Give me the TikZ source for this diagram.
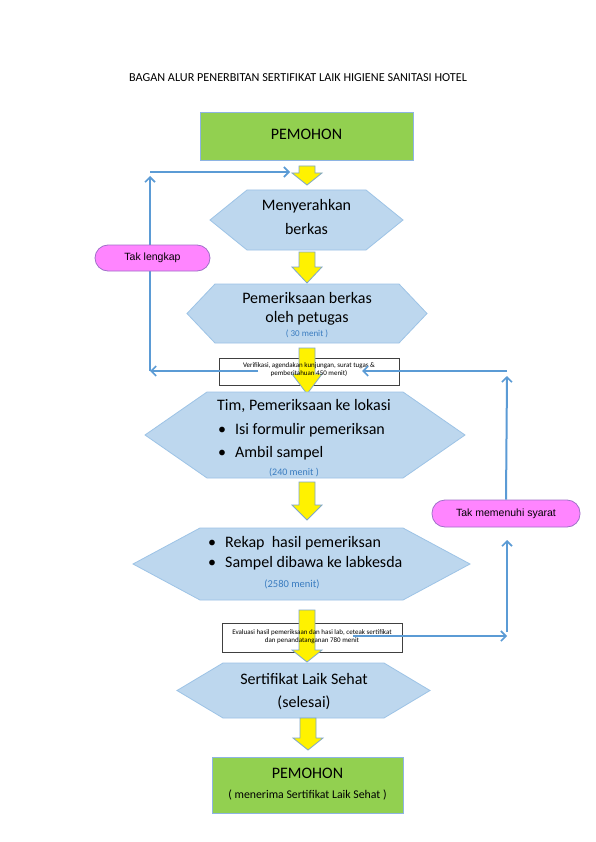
\documentclass[tikz,border=0pt]{standalone}
\usepackage{fontspec}
\setmainfont{Carlito}
\newfontfamily\arialf{Liberation Sans}
\usetikzlibrary{arrows.meta}
\definecolor{boxgreen}{HTML}{92D050}
\definecolor{boxgreenb}{HTML}{8EB4E3}
\definecolor{hexfill}{HTML}{BDD7EE}
\definecolor{hexline}{HTML}{9DC3E6}
\definecolor{pinkfill}{HTML}{FF85FF}
\definecolor{pinkline}{HTML}{A070C8}
\definecolor{flowblue}{HTML}{5B9BD5}
\definecolor{minblue}{HTML}{3A7CC0}
\definecolor{yarrline}{HTML}{7FA7C9}
\tikzset{
  greenbox/.style={draw=boxgreenb,fill=boxgreen,line width=0.8pt},
  hexbox/.style={draw=hexline,fill=hexfill,line width=0.8pt},
  pillbox/.style={draw=pinkline,fill=pinkfill,line width=0.8pt,rounded corners=13pt},
  notebox/.style={draw=black!75,line width=0.8pt},
  yarrow/.style={draw=yarrline,fill=yellow,line width=0.8pt},
  flow/.style={draw=flowblue,line width=2pt,-{Straight Barb[length=5pt,width=10pt,line width=1.6pt]}},
  txt/.style={inner sep=0pt,font=\fontsize{16}{19}\selectfont},
  mins/.style={inner sep=0pt,text=minblue,font=\fontsize{10}{12}\selectfont},
  tiny/.style={inner sep=0pt,font=\fontsize{7}{8}\selectfont,align=center},
  pilltxt/.style={inner sep=0pt,font=\arialf\fontsize{10.5}{12}\selectfont}
}
\newcommand\hexpath[5]{(#1,{(#3+#4)/2}) -- ({#1+#5},#3) -- ({#2-#5},#3) -- (#2,{(#3+#4)/2}) -- ({#2-#5},#4) -- ({#1+#5},#4) -- cycle}
\newcommand\blockarrow[4]{\path[yarrow] ({#1-8},#2) -- ({#1+8},#2) -- ({#1+8},#3) -- ({#1+15},#3) -- (#1,#4) -- ({#1-15},#3) -- ({#1-8},#3) -- cycle;}
\begin{document}
\begin{tikzpicture}[x=1pt,y=-1pt]
\useasboundingbox (0,0) rectangle (595,842);
\fill[white] (0,0) rectangle (595,842);
% title
\node[inner sep=0pt,font=\fontsize{12.2}{14}\selectfont] (title) at (298,78) {BAGAN ALUR PENERBITAN SERTIFIKAT LAIK HIGIENE SANITASI HOTEL};
% top box
\path[greenbox] (200,112) rectangle (413,160);
\node[txt] (pem1) at (306.5,134) {PEMOHON};
% coordinates for flow lines
\coordinate (lb) at (150,371);
\coordinate (lt) at (150,176);
\coordinate (ltc) at (150,172);
\coordinate (ltr) at (290,172);
\coordinate (mlin) at (258,371);
\coordinate (rr) at (507,371);
\coordinate (rarr) at (362,371);
\coordinate (rup) at (507,376);
\coordinate (rlow) at (507,632);
\coordinate (rmid) at (507,540);
\coordinate (evs) at (353,636);
\coordinate (eve) at (507,636);
% blue feedback lines
\draw[flow] (lb) -- (lt);
\draw[flow] (ltc) -- (ltr);
\node[pillbox,minimum width=115pt,minimum height=26pt,inner sep=0pt] (taklengkap) at (152.5,258) {};
\node[pilltxt] at (taklengkap) {Tak lengkap};
\node[pillbox,minimum width=148pt,minimum height=27pt,inner sep=0pt] (takmemenuhi) at (506,513.5) {};
\node[pilltxt] at (takmemenuhi) {Tak memenuhi syarat};
\draw[flow] (takmemenuhi.north) -- (rup);
\draw[flow] (rlow) -- (rmid);
% arrow 1
\blockarrow{307}{166}{173}{185}
% hex 1
\path[hexbox] \hexpath{210}{403}{190}{250}{37};
\node[txt] (h1a) at (306.5,206) {Menyerahkan};
\node[txt] (h1b) at (306.5,229) {berkas};
\blockarrow{307}{252}{267}{283}
% hex 2
\path[hexbox] \hexpath{187}{427}{284}{343}{28};
\node[txt] (h2a) at (307,298) {Pemeriksaan berkas};
\node[txt] (h2b) at (307,318) {oleh petugas};
\node[mins,font=\fontsize{9}{10}\selectfont] (h2c) at (307,334) {( 30 menit )};
% verif box
\path[notebox,fill=white] (219,358) rectangle (399,385);
\blockarrow{307}{348}{374}{394}
\node[tiny] (verif) at (309,370) {Verifikasi, agendakan kunjungan, surat tugas \&\\ pemberitahuan 450 menit)};
\draw[flow] (mlin) -- (lb);
\draw[flow] (rr) -- (rarr);
% hex 3
\path[hexbox] \hexpath{145}{465}{392}{478}{62};
\node[txt,anchor=west] (h3a) at (217,406) {Tim, Pemeriksaan ke lokasi};
\node[txt,anchor=west] (h3b) at (218,430) {\textbullet\hspace{9pt}Isi formulir pemeriksan};
\node[txt,anchor=west] (h3c) at (218,453) {\textbullet\hspace{9pt}Ambil sampel};
\node[mins] (h3d) at (294,473) {(240 menit )};
\blockarrow{307}{482}{505}{520}
% hex 4
\path[hexbox] \hexpath{133}{470}{528}{600}{67};
\node[txt,anchor=west] (h4a) at (208,543) {\textbullet\hspace{9pt}Rekap\ \ hasil pemeriksan};
\node[txt,anchor=west] (h4b) at (208,563) {\textbullet\hspace{9pt}Sampel dibawa ke labkesda};
\node[mins,font=\fontsize{10.5}{12}\selectfont] (h4c) at (292,584) {(2580 menit)};
% eval box
\path[notebox,fill=white] (222,623) rectangle (402,652);
\blockarrow{307}{610}{650}{662}
\node[tiny] (eval) at (312,637) {Evaluasi hasil pemeriksaan dan hasi lab, ceteak sertifikat\\ dan penandatanganan 780 menit};
\draw[flow] (evs) -- (eve);
% hex 5
\path[hexbox] \hexpath{177}{430}{663}{718}{46};
\node[txt] (h5a) at (304,679) {Sertifikat Laik Sehat};
\node[txt] (h5b) at (304,703) {(selesai)};
\blockarrow{308}{718}{738}{750}
% bottom box
\path[greenbox] (212,757) rectangle (403,813);
\node[txt] (pem2) at (307.5,773) {PEMOHON};
\node[inner sep=0pt,font=\fontsize{11.8}{14}\selectfont] (pem2b) at (307.5,795) {( menerima Sertifikat Laik Sehat )};
\end{tikzpicture}
\end{document}
